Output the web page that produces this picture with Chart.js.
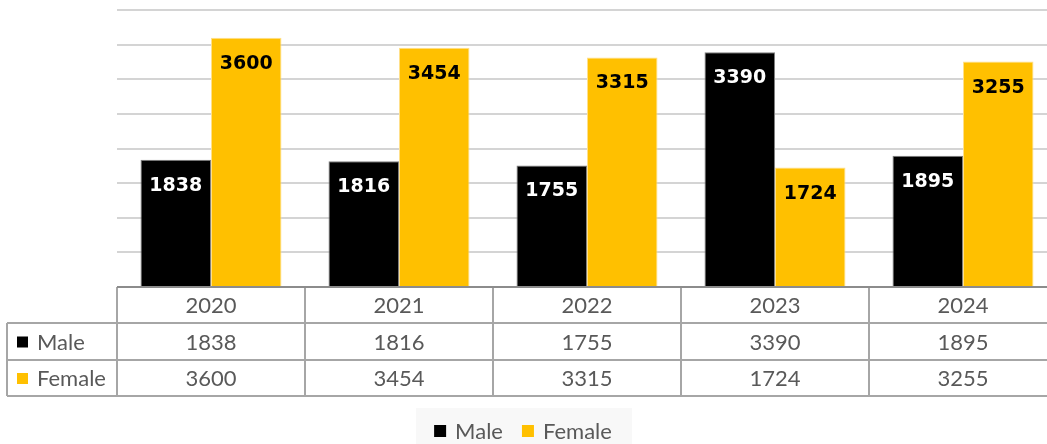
<!DOCTYPE html>
<html>
<head>
<meta charset="utf-8">
<script src="https://cdn.jsdelivr.net/npm/chart.js@4.4.1/dist/chart.umd.min.js"></script>
<style>
  html, body { margin: 0; padding: 0; background: #fff; overflow: hidden; }
  #wrap { width: 1057px; height: 444px; position: relative; }
</style>
</head>
<body>
<div id="wrap"><canvas id="chart"></canvas></div>
<script>
// ----- data -----
const years = ['2020', '2021', '2022', '2023', '2024'];
const male = [1838, 1816, 1755, 3390, 1895];
const female = [3600, 3454, 3315, 1724, 3255];
const seriesNames = ['Male', 'Female'];

const colors = ['#000000', '#FFC000'];
const borders = ['#7f7f7f', '#ffe08a'];
const labelColors = ['#ffffff', '#000000'];

const tableFont = '22px Lato, "Open Sans", sans-serif';
const tableColor = '#595959';
const lineColor = '#a6a6a6';

// 막대 안쪽 상단 값 라벨
const barLabels = {
  id: 'barLabels',
  afterDatasetsDraw(chart){
    const ctx = chart.ctx;
    ctx.save();
    ctx.font = 'bold 19px "DejaVu Sans", Verdana, sans-serif';
    ctx.textAlign = 'center';
    ctx.textBaseline = 'middle';
    chart.data.datasets.forEach((ds, d) => {
      const meta = chart.getDatasetMeta(d);
      ctx.fillStyle = labelColors[d];
      meta.data.forEach((bar, i) => {
        ctx.fillText(String(ds.data[i]), bar.x, bar.y + 26);
      });
    });
    ctx.restore();
  }
};

// 데이터 테이블 + 하단 범례
const dataTable = {
  id: 'dataTable',
  afterDraw(chart){
    const ctx = chart.ctx;
    const xs = chart.scales.x;
    const area = chart.chartArea;
    const n = years.length;
    const colW = (xs.right - xs.left) / n;
    const top = area.bottom;
    const rows = [top, top + 36, top + 73, top + 109];
    const leftEdge = 7;

    ctx.save();
    ctx.strokeStyle = lineColor;
    ctx.lineWidth = 2;
    ctx.beginPath();
    // horizontals
    ctx.moveTo(xs.left, rows[0]); ctx.lineTo(xs.right, rows[0]);
    for (let r = 1; r < rows.length; r++) {
      ctx.moveTo(leftEdge, rows[r]); ctx.lineTo(xs.right, rows[r]);
    }
    // verticals
    for (let i = 0; i <= n; i++) {
      const x = xs.left + colW * i;
      ctx.moveTo(x, rows[0]); ctx.lineTo(x, rows[3]);
    }
    ctx.moveTo(leftEdge, rows[1]); ctx.lineTo(leftEdge, rows[3]);
    ctx.stroke();

    // axis line (darker)
    ctx.strokeStyle = '#8c8c8c';
    ctx.beginPath();
    ctx.moveTo(xs.left, rows[0]); ctx.lineTo(xs.right, rows[0]);
    ctx.stroke();

    ctx.font = tableFont;
    ctx.fillStyle = tableColor;
    ctx.textAlign = 'center';
    ctx.textBaseline = 'middle';
    const series = [male, female];
    years.forEach((y, i) => {
      const cx = xs.getPixelForValue(i);
      ctx.fillText(y, cx, (rows[0] + rows[1]) / 2 + 1);
      series.forEach((s, k) => {
        ctx.fillText(String(s[i]), cx, (rows[k + 1] + rows[k + 2]) / 2 + 1);
      });
    });

    // row headers
    ctx.textAlign = 'left';
    seriesNames.forEach((name, k) => {
      const cy = (rows[k + 1] + rows[k + 2]) / 2;
      ctx.fillStyle = colors[k];
      ctx.fillRect(17, cy - 5, 11, 11);
      ctx.fillStyle = tableColor;
      ctx.fillText(name, 37, cy + 1);
    });

    // legend
    const cx = 523, cy = 431;
    ctx.fillStyle = '#f8f8f8';
    ctx.fillRect(416, 408, 216, 36);
    const sq = 12, gap = 9, itemGap = 19;
    const widths = seriesNames.map(t => sq + gap + ctx.measureText(t).width);
    const total = widths.reduce((a, b) => a + b, 0) + itemGap;
    let x = cx - total / 2;
    seriesNames.forEach((name, k) => {
      ctx.fillStyle = colors[k];
      ctx.fillRect(x, cy - 6, sq, sq);
      ctx.fillStyle = tableColor;
      ctx.fillText(name, x + sq + gap, cy + 1);
      x += widths[k] + itemGap;
    });
    ctx.restore();
  }
};

new Chart(document.getElementById('chart'), {
  type: 'bar',
  data: {
    labels: years,
    datasets: [
      { label: seriesNames[0], data: male, backgroundColor: colors[0], borderColor: borders[0], borderWidth: 1 },
      { label: seriesNames[1], data: female, backgroundColor: colors[1], borderColor: borders[1], borderWidth: 1 }
    ]
  },
  options: {
    animation: false,
    responsive: true,
    maintainAspectRatio: false,
    layout: { padding: { left: 117, top: 10, bottom: 157, right: 0 } },
    datasets: { bar: { categoryPercentage: 0.75, barPercentage: 1 } },
    scales: {
      x: { display: false },
      y: {
        min: 0, max: 4000,
        ticks: { display: false, stepSize: 500 },
        grid: { color: '#d4d4d4', lineWidth: 2, drawTicks: false },
        border: { display: false },
        afterFit: s => { s.width = 0; }
      }
    },
    plugins: {
      legend: { display: false },
      tooltip: { enabled: false }
    }
  },
  plugins: [barLabels, dataTable]
});
</script>
</body>
</html>
